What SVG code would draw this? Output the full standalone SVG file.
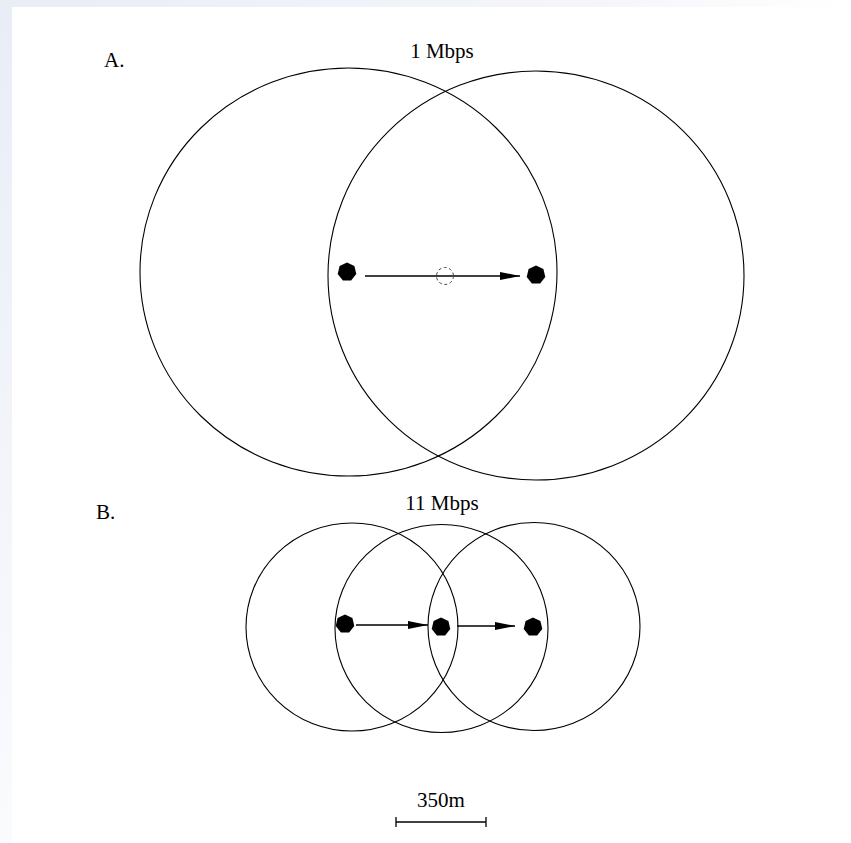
<svg xmlns="http://www.w3.org/2000/svg" width="851" height="843" viewBox="0 0 851 843">
<defs>
<linearGradient id="lg" x1="0" y1="0" x2="0" y2="1"><stop offset="0" stop-color="#e9edf6"/><stop offset="1" stop-color="#fafbfd"/></linearGradient>
<linearGradient id="tg" x1="0" y1="0" x2="1" y2="0"><stop offset="0" stop-color="#e9edf6"/><stop offset="0.7" stop-color="#f4f6fa"/><stop offset="1" stop-color="#ffffff"/></linearGradient>
<marker id="ah" viewBox="0 0 20 10" refX="20" refY="5" markerWidth="20" markerHeight="10" markerUnits="userSpaceOnUse" orient="auto"><path d="M0,1 L20,5 L0,9 Z" fill="#000"/></marker>
<polygon id="node" points="0,-9.5 7.4,-5.9 9.3,2.1 4.1,8.6 -4.1,8.6 -9.3,2.1 -7.4,-5.9" fill="#000"/>
</defs>
<style>
.c{fill:none;stroke:#000;stroke-width:1.1}
.t{font-family:"Liberation Serif",serif;font-size:21px;fill:#000}
.a{stroke:#000;stroke-width:1.3;fill:none;marker-end:url(#ah)}
</style>
<rect width="851" height="843" fill="#fff"/>
<rect x="0" y="0" width="12" height="843" fill="url(#lg)"/>
<rect x="0" y="0" width="851" height="7" fill="url(#tg)"/>
<g id="rangesA">
<ellipse class="c" cx="348.5" cy="272" rx="208.5" ry="204"/>
<ellipse class="c" cx="536" cy="275.5" rx="208" ry="204.5"/>
</g>
<g id="rangesB">
<ellipse class="c" cx="352" cy="627" rx="106" ry="104"/>
<ellipse class="c" cx="441.5" cy="628.5" rx="106.5" ry="104"/>
<ellipse class="c" cx="534" cy="626.5" rx="106" ry="104"/>
</g>
<g id="connectors">
<line class="a" x1="365" y1="276" x2="520" y2="276"/>
<line class="a" x1="356" y1="625" x2="428" y2="625"/>
<line class="a" x1="457" y1="626" x2="515" y2="626"/>
</g>
<g id="ghost"><circle cx="445" cy="276" r="8.5" fill="none" stroke="#444" stroke-width="1" stroke-dasharray="3,2.5"/></g>
<g id="nodeA1"><use href="#node" x="347" y="272"/></g>
<g id="nodeA2"><use href="#node" x="536" y="275"/></g>
<g id="nodeB1"><use href="#node" x="345" y="624"/></g>
<g id="nodeB2"><use href="#node" x="441" y="627"/></g>
<g id="nodeB3"><use href="#node" x="533" y="627"/></g>
<g id="labels">
<text class="t" x="104" y="67">A.</text>
<text class="t" x="442" y="58" text-anchor="middle">1 Mbps</text>
<text class="t" x="96" y="519">B.</text>
<text class="t" x="442" y="510" text-anchor="middle">11 Mbps</text>
<text class="t" x="441" y="807" text-anchor="middle">350m</text>
</g>
<g id="scale" stroke="#000" stroke-width="1.3">
<line x1="396" y1="822" x2="486" y2="822"/>
<line x1="396" y1="817" x2="396" y2="827"/>
<line x1="486" y1="817" x2="486" y2="827"/>
</g>
</svg>
